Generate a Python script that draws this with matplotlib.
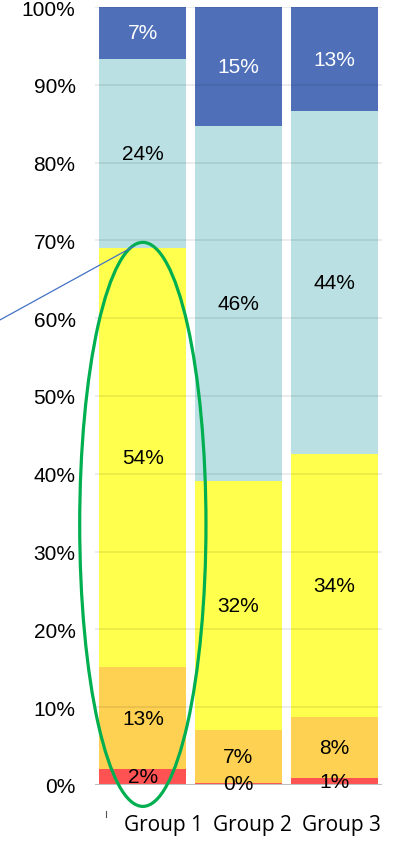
import matplotlib
matplotlib.use("Agg")
import matplotlib.pyplot as plt
from matplotlib.patches import Ellipse
import numpy as np

groups = ["Group 1", "Group 2", "Group 3"]
segments = ["Red", "Orange", "Yellow", "Teal", "Blue"]
red = [2.06, 0.3, 0.9]
orange = [13.1, 6.8, 7.9]
yellow = [53.9, 32.0, 33.7]
teal = [24.3, 45.6, 44.1]
blue = [6.7, 15.3, 13.4]
colors = ["#FF5252", "#FFD152", "#FFFF4D", "#BAE0E3", "#4F70B8"]
text_colors = ["black", "black", "black", "black", "white"]
yticks = list(range(0, 101, 10))

plt.rcParams["font.family"] = ["Liberation Sans", "DejaVu Sans"]

fig = plt.figure(figsize=(3.98, 8.45), dpi=100)
ax = fig.add_axes([95 / 398, 1 - 786 / 845, 287 / 398, 778 / 845])

x = np.arange(len(groups))
series = [red, orange, yellow, teal, blue]
bottom = np.zeros(len(groups))
for vals, col, tcol in zip(series, colors, text_colors):
    vals = np.array(vals)
    ax.bar(x, vals, width=0.91, bottom=bottom, color=col, zorder=2)
    for xi, b, v in zip(x, bottom, vals):
        ax.text(xi, b + v / 2, f"{v:.0f}%", ha="center", va="center",
                fontsize=15, color=tcol, zorder=5)
    bottom += vals

ax.set_xlim(-0.5, 2.5)
ax.set_ylim(0, 100)
ax.set_yticks(yticks)
ax.set_yticklabels([f"{t}%" for t in yticks], fontsize=15)
ax.tick_params(axis="y", length=0, pad=14)
for t in yticks[1:]:
    ax.axhline(t, color="black", alpha=0.09, lw=1.2, zorder=3)
ax.axhline(0, color="#BFBFBF", lw=1.5, zorder=3)

# group labels sit slightly right of the bar centres
ax.set_xticks(x + np.array([0.22, 0.15, 0.08]))
ax.set_xticklabels(groups, fontsize=15, family=["Open Sans", "DejaVu Sans"])
ax.tick_params(axis="x", length=0, pad=21)
for s in ax.spines.values():
    s.set_visible(False)

# small stray tick below the first bar
ax.plot([-0.39, -0.39], [-3.3, -4.1], color="#555555", lw=0.8, clip_on=False)

# highlight ellipse around the first group
ell = Ellipse((0.0, 33.5), width=1.32, height=72.5, fill=False,
              edgecolor="#00B050", lw=2.3, clip_on=False, zorder=6)
ax.add_patch(ell)

# pointer line to the highlight
ax.plot([-1.49, -0.10], [59.8, 69.2], color="#4472C4", lw=0.9,
        clip_on=False, zorder=6)

fig.savefig("out.png", dpi=100)
